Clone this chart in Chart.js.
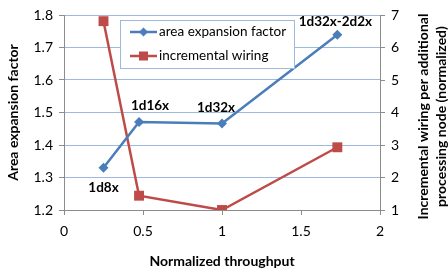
<!DOCTYPE html>
<html>
<head>
<meta charset="utf-8">
<script src="https://cdn.jsdelivr.net/npm/chart.js@4.4.1/dist/chart.umd.min.js"></script>
<style>
html,body{margin:0;padding:0;background:#fff;}
#wrap{width:448px;height:275px;position:relative;}
</style>
</head>
<body>
<div id="wrap"><canvas id="c" width="448" height="275"></canvas></div>
<script>
const throughput = [0.25, 0.475, 1.0, 1.73];
const areaFactor = [1.33, 1.471, 1.466, 1.739];
const wiring = [6.81, 1.44, 1.0, 2.93];
const pointLabels = ['1d8x', '1d16x', '1d32x', '1d32x-2d2x'];
const leftTicks = [1.2, 1.3, 1.4, 1.5, 1.6, 1.7, 1.8];
const rightTicks = [1, 2, 3, 4, 5, 6, 7];
const xTicks = [0, 0.5, 1, 1.5, 2];
const seriesNames = ['area expansion factor', 'incremental wiring'];

const BLUE = '#4A7EBB', RED = '#BE4B48', GRID = '#9DB9DE', AXIS = '#8C8C8C';
const FONT = 'Lato, "Liberation Sans", sans-serif';

const labelOffsets = [[0, 20], [11, -16], [-6, -16], [-2, -13]];

const pointLabelPlugin = {
  id: 'pointLabels',
  afterDatasetsDraw(chart) {
    const ctx = chart.ctx;
    const meta = chart.getDatasetMeta(0);
    ctx.save();
    ctx.font = 'bold 13.5px ' + FONT;
    ctx.fillStyle = '#000';
    ctx.textAlign = 'center';
    ctx.textBaseline = 'middle';
    meta.data.forEach((el, i) => {
      ctx.fillText(pointLabels[i], el.x + labelOffsets[i][0], el.y + labelOffsets[i][1]);
    });
    ctx.restore();
  }
};

const boxLegendPlugin = {
  id: 'boxLegend',
  afterDatasetsDraw(chart) {
    const ctx = chart.ctx;
    const ca = chart.chartArea;
    const x0 = ca.left + 56, y0 = ca.top + 5, w = 174, h = 48;
    ctx.save();
    ctx.fillStyle = '#fff';
    ctx.fillRect(x0, y0, w, h);
    ctx.strokeStyle = GRID;
    ctx.lineWidth = 1;
    ctx.strokeRect(x0 + 0.5, y0 + 0.5, w, h);
    ctx.font = '13.5px ' + FONT;
    ctx.textBaseline = 'middle';
    ctx.textAlign = 'left';
    chart.data.datasets.forEach((ds, i) => {
      const yy = y0 + 12 + i * 24;
      ctx.strokeStyle = ds.borderColor;
      ctx.lineWidth = 2.5;
      ctx.beginPath();
      ctx.moveTo(x0 + 10, yy);
      ctx.lineTo(x0 + 37, yy);
      ctx.stroke();
      ctx.fillStyle = ds.backgroundColor;
      const cx = x0 + 23.5;
      if (ds.pointStyle === 'rectRot') {
        ctx.beginPath();
        ctx.moveTo(cx, yy - 4.5); ctx.lineTo(cx + 4.5, yy); ctx.lineTo(cx, yy + 4.5); ctx.lineTo(cx - 4.5, yy);
        ctx.closePath(); ctx.fill();
      } else {
        ctx.fillRect(cx - 4.5, yy - 4.5, 9, 9);
      }
      ctx.fillStyle = '#000';
      ctx.fillText(seriesNames[i], x0 + 39, yy);
    });
    ctx.restore();
  }
};

const rightTitlePlugin = {
  id: 'rightTitle',
  afterDraw(chart) {
    const ctx = chart.ctx;
    const ca = chart.chartArea;
    const cy = (ca.top + ca.bottom) / 2 + 4;
    ctx.save();
    ctx.font = 'bold 14px ' + FONT;
    ctx.fillStyle = '#000';
    ctx.textAlign = 'center';
    ctx.textBaseline = 'middle';
    ctx.translate(423, cy);
    ctx.rotate(-Math.PI / 2);
    ctx.fillText('Incremental wiring per additional', 0, 0);
    ctx.fillText('processing node (normalized)', 0, 18);
    ctx.restore();
  }
};

new Chart(document.getElementById('c'), {
  type: 'line',
  data: {
    datasets: [
      {
        label: seriesNames[0],
        data: throughput.map((x, i) => ({x, y: areaFactor[i]})),
        yAxisID: 'y',
        borderColor: BLUE,
        backgroundColor: BLUE,
        borderWidth: 2.5,
        pointStyle: 'rectRot',
        pointRadius: 5,
        pointBorderWidth: 0,
        tension: 0
      },
      {
        label: seriesNames[1],
        data: throughput.map((x, i) => ({x, y: wiring[i]})),
        yAxisID: 'y2',
        borderColor: RED,
        backgroundColor: RED,
        borderWidth: 2.5,
        pointStyle: 'rect',
        pointRadius: 7,
        pointBorderWidth: 0,
        tension: 0
      }
    ]
  },
  options: {
    responsive: false,
    animation: false,
    devicePixelRatio: 1,
    layout: {padding: {top: 15, left: 0, right: 0, bottom: 0}},
    plugins: {legend: {display: false}, tooltip: {enabled: false}},
    scales: {
      x: {
        type: 'linear',
        min: 0, max: 2,
        afterBuildTicks: s => { s.ticks = xTicks.map(v => ({value: v})); },
        afterFit: s => { s.height = 65; },
        ticks: {font: {family: FONT, size: 14}, color: '#000', padding: 8, maxRotation: 0, callback: v => String(v)},
        grid: {drawOnChartArea: false, tickLength: 5, tickColor: AXIS},
        border: {color: AXIS, width: 1},
        title: {display: true, text: 'Normalized throughput', font: {family: FONT, size: 14, weight: 'bold'}, color: '#000', padding: {top: 4, bottom: 5}}
      },
      y: {
        position: 'left',
        min: 1.2, max: 1.8,
        afterBuildTicks: s => { s.ticks = leftTicks.map(v => ({value: v})); },
        afterFit: s => { s.width = 64; },
        ticks: {font: {family: FONT, size: 14}, color: '#000', padding: 6, callback: v => v.toFixed(1)},
        grid: {color: c => (c.tick && Math.abs(c.tick.value - 1.2) < 1e-6) ? 'rgba(0,0,0,0)' : GRID, tickLength: 5, tickColor: AXIS},
        border: {color: AXIS, width: 1},
        title: {display: true, text: 'Area expansion factor', font: {family: FONT, size: 14, weight: 'bold'}, color: '#000', padding: {top: 5, bottom: 0}}
      },
      y2: {
        position: 'right',
        min: 1, max: 7,
        afterBuildTicks: s => { s.ticks = rightTicks.map(v => ({value: v})); },
        afterFit: s => { s.width = 68; },
        ticks: {font: {family: FONT, size: 14}, color: '#000', padding: 6, callback: v => String(v)},
        grid: {drawOnChartArea: false, tickLength: 5, tickColor: AXIS},
        border: {color: AXIS, width: 1}
      }
    }
  },
  plugins: [pointLabelPlugin, boxLegendPlugin, rightTitlePlugin]
});
</script>
</body>
</html>
